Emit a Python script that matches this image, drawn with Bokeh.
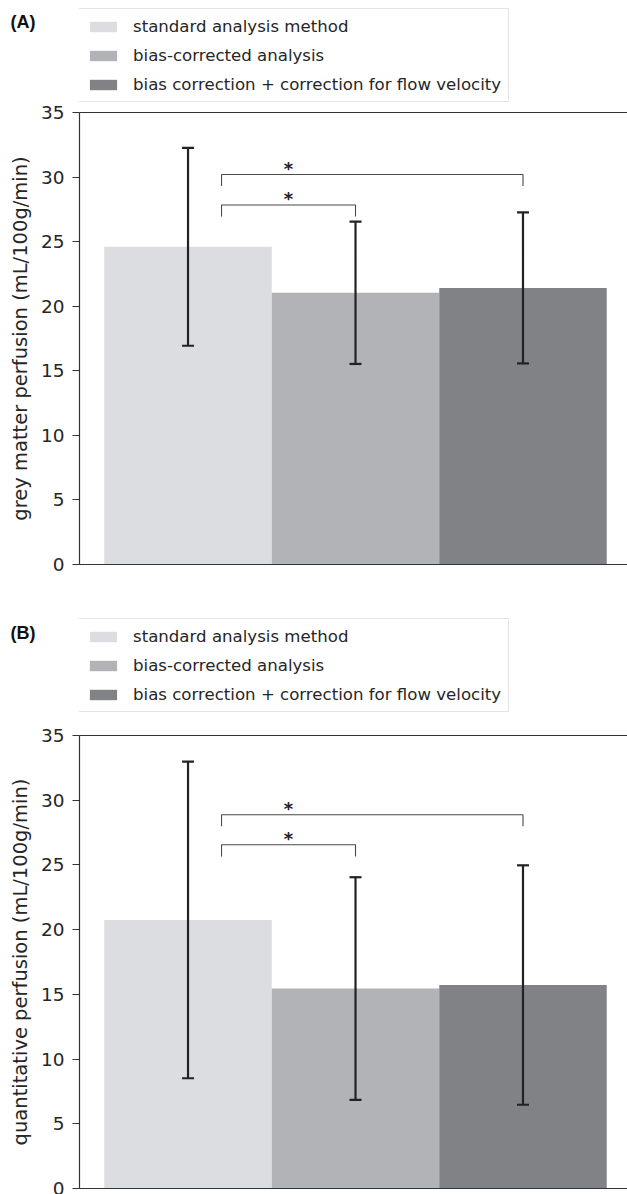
from bokeh.plotting import figure
from bokeh.layouts import column
from bokeh.models import (Range1d, FixedTicker, LinearAxis, Legend, LegendItem,
                          Whisker, TeeHead, ColumnDataSource)
from bokeh.core.properties import value
from bokeh.embed import file_html
from bokeh.resources import INLINE

# --- data -------------------------------------------------------------------
methods = ["standard analysis method",
           "bias-corrected analysis",
           "bias correction + correction for flow velocity"]
colors = ["#dcdde0", "#b2b3b7", "#818286"]

gm_mean = [24.6, 21.04, 21.42]
gm_sd = [7.66, 5.51, 5.85]

quant_mean = [20.75, 15.45, 15.72]
quant_sd = [12.23, 8.6, 9.25]

y_ticks = [0, 5, 10, 15, 20, 25, 30, 35]

# significance brackets: (from bar, to bar), bracket height per panel
sig_pairs = [(0, 1), (0, 2)]
gm_bracket_y = [27.84, 30.2]
quant_bracket_y = [26.56, 28.88]

FONT = "DejaVu Sans"
TXT = "#262626"
W = 627
LEFT = 79
TOP = 9


def header(tag, height, legend_top, tag_y):
    """Strip above a panel: panel tag on the left, legend box on the right."""
    h = figure(width=W, height=height, output_backend="svg", toolbar_location=None,
               x_range=Range1d(0, W - LEFT), y_range=Range1d(height, 0),
               min_border_left=LEFT, min_border_right=0, min_border_top=0,
               min_border_bottom=0, x_axis_type=None, y_axis_type=None)
    h.outline_line_color = None
    h.grid.visible = False

    # the panel tag sits in the left margin as a lone axis label
    tag_axis = LinearAxis(ticker=FixedTicker(ticks=[tag_y]),
                          major_label_overrides={tag_y: tag},
                          major_label_text_font="Liberation Sans",
                          major_label_text_font_style="bold",
                          major_label_text_font_size="18px",
                          major_label_text_color="#111111",
                          major_label_standoff=44, major_tick_out=0, major_tick_in=0,
                          major_tick_line_color=None, minor_tick_line_color=None,
                          axis_line_color=None)
    h.add_layout(tag_axis, "left")

    # zero-height bars only provide the legend swatches
    swatches = [h.vbar(x=[0], top=[0], bottom=[0], width=1, fill_color=c, line_color=None)
                for c in colors]
    items = [LegendItem(label=m, renderers=[r]) for m, r in zip(methods, swatches)]
    legend_h = 94
    leg = Legend(items=items, location=(-1, height - legend_top - legend_h),
                 label_text_font=FONT, label_text_font_size="16.6px", label_text_color=TXT,
                 glyph_width=34, glyph_height=13, label_height=20, spacing=9,
                 label_standoff=13, padding=7, margin=0,
                 border_line_color="#cccccc", border_line_width=1.2,
                 background_fill_color="white", background_fill_alpha=1.0)
    h.add_layout(leg, "center")
    return h


def panel(means, sds, bracket_y, ylabel, height, frame_h):
    border_bottom = height - TOP - frame_h
    p = figure(width=W, height=height, output_backend="svg", toolbar_location=None,
               x_range=Range1d(-0.648, 2.624), y_range=Range1d(0, 35),
               min_border_left=LEFT, min_border_right=0,
               min_border_top=TOP, min_border_bottom=border_bottom)
    p.outline_line_color = None
    p.grid.visible = False
    p.background_fill_color = "white"
    p.border_fill_color = "white"

    xs = list(range(len(means)))
    src = ColumnDataSource(dict(x=xs, top=means, color=colors,
                                upper=[m + s for m, s in zip(means, sds)],
                                lower=[m - s for m, s in zip(means, sds)]))
    p.vbar(x="x", top="top", width=1.0, bottom=0, source=src,
           fill_color="color", line_color=None)

    # error bars drawn over the bars
    wk = Whisker(base="x", upper="upper", lower="lower", source=src, level="overlay",
                 line_color="#222222", line_width=2.2,
                 upper_head=TeeHead(size=12, line_color="#222222", line_width=2.2),
                 lower_head=TeeHead(size=12, line_color="#222222", line_width=2.2))
    p.add_layout(wk)

    # significance brackets with stars
    tick_len = 0.9
    bx, by = [], []
    for (a, b), yb in zip(sig_pairs, bracket_y):
        x0 = a + 0.2
        bx.append([x0, x0, b, b])
        by.append([yb - tick_len, yb, yb, yb - tick_len])
    p.multi_line(bx, by, line_color="#4a4a4a", line_width=1.1)
    p.text(x=[a + 0.6 for a, _ in sig_pairs], y=bracket_y, text=["*"] * len(sig_pairs),
           text_font=value(FONT), text_font_size="18px", text_color="#222222",
           text_font_style="bold",
           text_align="center", text_baseline="middle", y_offset=-6)

    # left axis
    ya = p.yaxis[0]
    ya.ticker = FixedTicker(ticks=y_ticks)
    ya.axis_label = ylabel
    ya.axis_label_text_font = FONT
    ya.axis_label_text_font_style = "normal"
    ya.axis_label_text_font_size = "19.5px"
    ya.axis_label_text_color = TXT
    ya.axis_label_standoff = 6
    ya.major_label_text_font = FONT
    ya.major_label_text_font_size = "18.5px"
    ya.major_label_text_color = TXT
    ya.major_label_standoff = 8
    ya.major_tick_out = 7
    ya.major_tick_in = 0
    ya.minor_tick_line_color = None
    ya.axis_line_color = "#333333"
    ya.major_tick_line_color = "#333333"
    ya.axis_line_width = 1.2

    # bottom and top spines: bare axis lines
    top_axis = LinearAxis()
    for ax in (p.xaxis[0], top_axis):
        ax.ticker = FixedTicker(ticks=[])
        ax.major_tick_out = 0
        ax.major_tick_in = 0
        ax.minor_tick_out = 0
        ax.minor_tick_in = 0
        ax.major_label_standoff = 0
        ax.axis_line_color = "#333333"
        ax.axis_line_width = 1.2
    p.add_layout(top_axis, "above")
    return p


head_a = header("(A)", 103, 8, 21)
pa = panel(gm_mean, gm_sd, gm_bracket_y,
           "grey matter perfusion (mL/100g/min)", 497, 452)
head_b = header("(B)", 126, 18, 32)
pb = panel(quant_mean, quant_sd, quant_bracket_y,
           "quantitative perfusion (mL/100g/min)", 468, 453)

layout = column(head_a, pa, head_b, pb, spacing=0)
open("out.html", "w").write(file_html(layout, INLINE))
